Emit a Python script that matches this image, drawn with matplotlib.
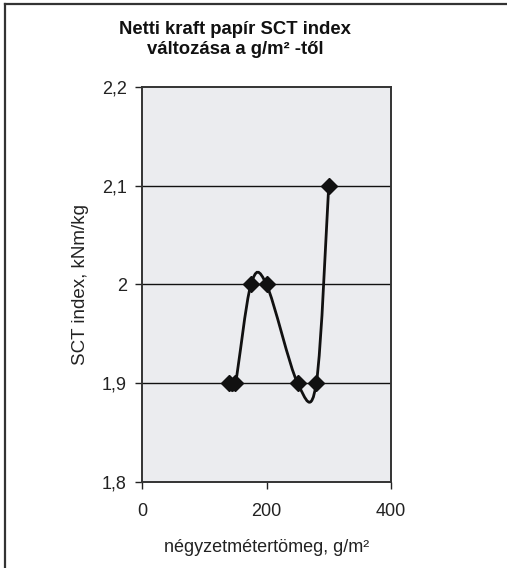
import numpy as np
import matplotlib
matplotlib.use("Agg")
import matplotlib.pyplot as plt
from matplotlib.path import Path
from matplotlib.patches import PathPatch
from matplotlib.ticker import FuncFormatter
from matplotlib.lines import Line2D

plt.rcParams['font.family'] = ['Liberation Sans', 'DejaVu Sans']

# data
gsm = [140, 150, 175, 200, 250, 280, 300]
sct = [1.9, 1.9, 2.0, 2.0, 1.9, 1.9, 2.1]
xticks = [0, 200, 400]
yticks = [1.8, 1.9, 2.0, 2.1, 2.2]


def smooth_path(xs, ys):
    # excel-like smoothed line: bezier segments with catmull-rom control points
    pts = np.column_stack([xs, ys]).astype(float)
    n = len(pts)
    verts = [pts[0]]
    codes = [Path.MOVETO]
    for i in range(n - 1):
        p0 = pts[i - 1] if i > 0 else pts[i]
        p1 = pts[i]
        p2 = pts[i + 1]
        p3 = pts[i + 2] if i + 2 < n else pts[i + 1]
        c1 = p1 + (p2 - p0) / 6
        c2 = p2 - (p3 - p1) / 6
        verts += [c1, c2, p2]
        codes += [Path.CURVE4] * 3
    return Path(verts, codes)


fig = plt.figure(figsize=(5.07, 5.68), dpi=100)
ax = fig.add_axes([142 / 507, 1 - 482 / 568, (391 - 142) / 507, (482 - 87) / 568])
ax.set_facecolor('#ebecef')

ax.set_xlim(0, 400)
ax.set_ylim(1.8, 2.2)
ax.set_xticks(xticks)
ax.set_yticks(yticks)
ax.yaxis.set_major_formatter(FuncFormatter(lambda v, p: f"{v:g}".replace('.', ',')))
ax.tick_params(direction='out', length=5, width=1, labelsize=13, color='#222222',
               labelcolor='#222222')
ax.tick_params(axis='x', pad=10)
ax.tick_params(axis='y', pad=6)
for s in ax.spines.values():
    s.set_color('#333333')
    s.set_linewidth(1.4)

for y in yticks[1:-1]:
    ax.axhline(y, color='#111111', lw=1, zorder=1)

ax.add_patch(PathPatch(smooth_path(gsm, sct), fill=False, lw=2, ec='#111111', zorder=3))
ax.plot(gsm, sct, ls='none', marker='D', ms=8.5, color='#111111', zorder=4)

ax.set_xlabel('négyzetmétertömeg, g/m²', fontsize=13, color='#222222', labelpad=14)
ax.set_ylabel('SCT index, kNm/kg', fontsize=13.5, color='#222222', labelpad=9)

fig.text(235 / 507, 1 - 30 / 568, 'Netti kraft papír SCT index', ha='center', va='center',
         fontsize=13.3, fontweight='bold', color='#111111')
fig.text(235 / 507, 1 - 49 / 568, 'változása a g/m² -től', ha='center', va='center',
         fontsize=13.3, fontweight='bold', color='#111111')

# outer chart border (only left and top visible)
fig.add_artist(Line2D([5 / 507, 5 / 507], [0, 1 - 4 / 568], transform=fig.transFigure,
                      color='#333333', lw=1.6))
fig.add_artist(Line2D([5 / 507, 1], [1 - 4 / 568, 1 - 4 / 568], transform=fig.transFigure,
                      color='#333333', lw=1.6))

fig.savefig('out.png', dpi=100, facecolor='white')
